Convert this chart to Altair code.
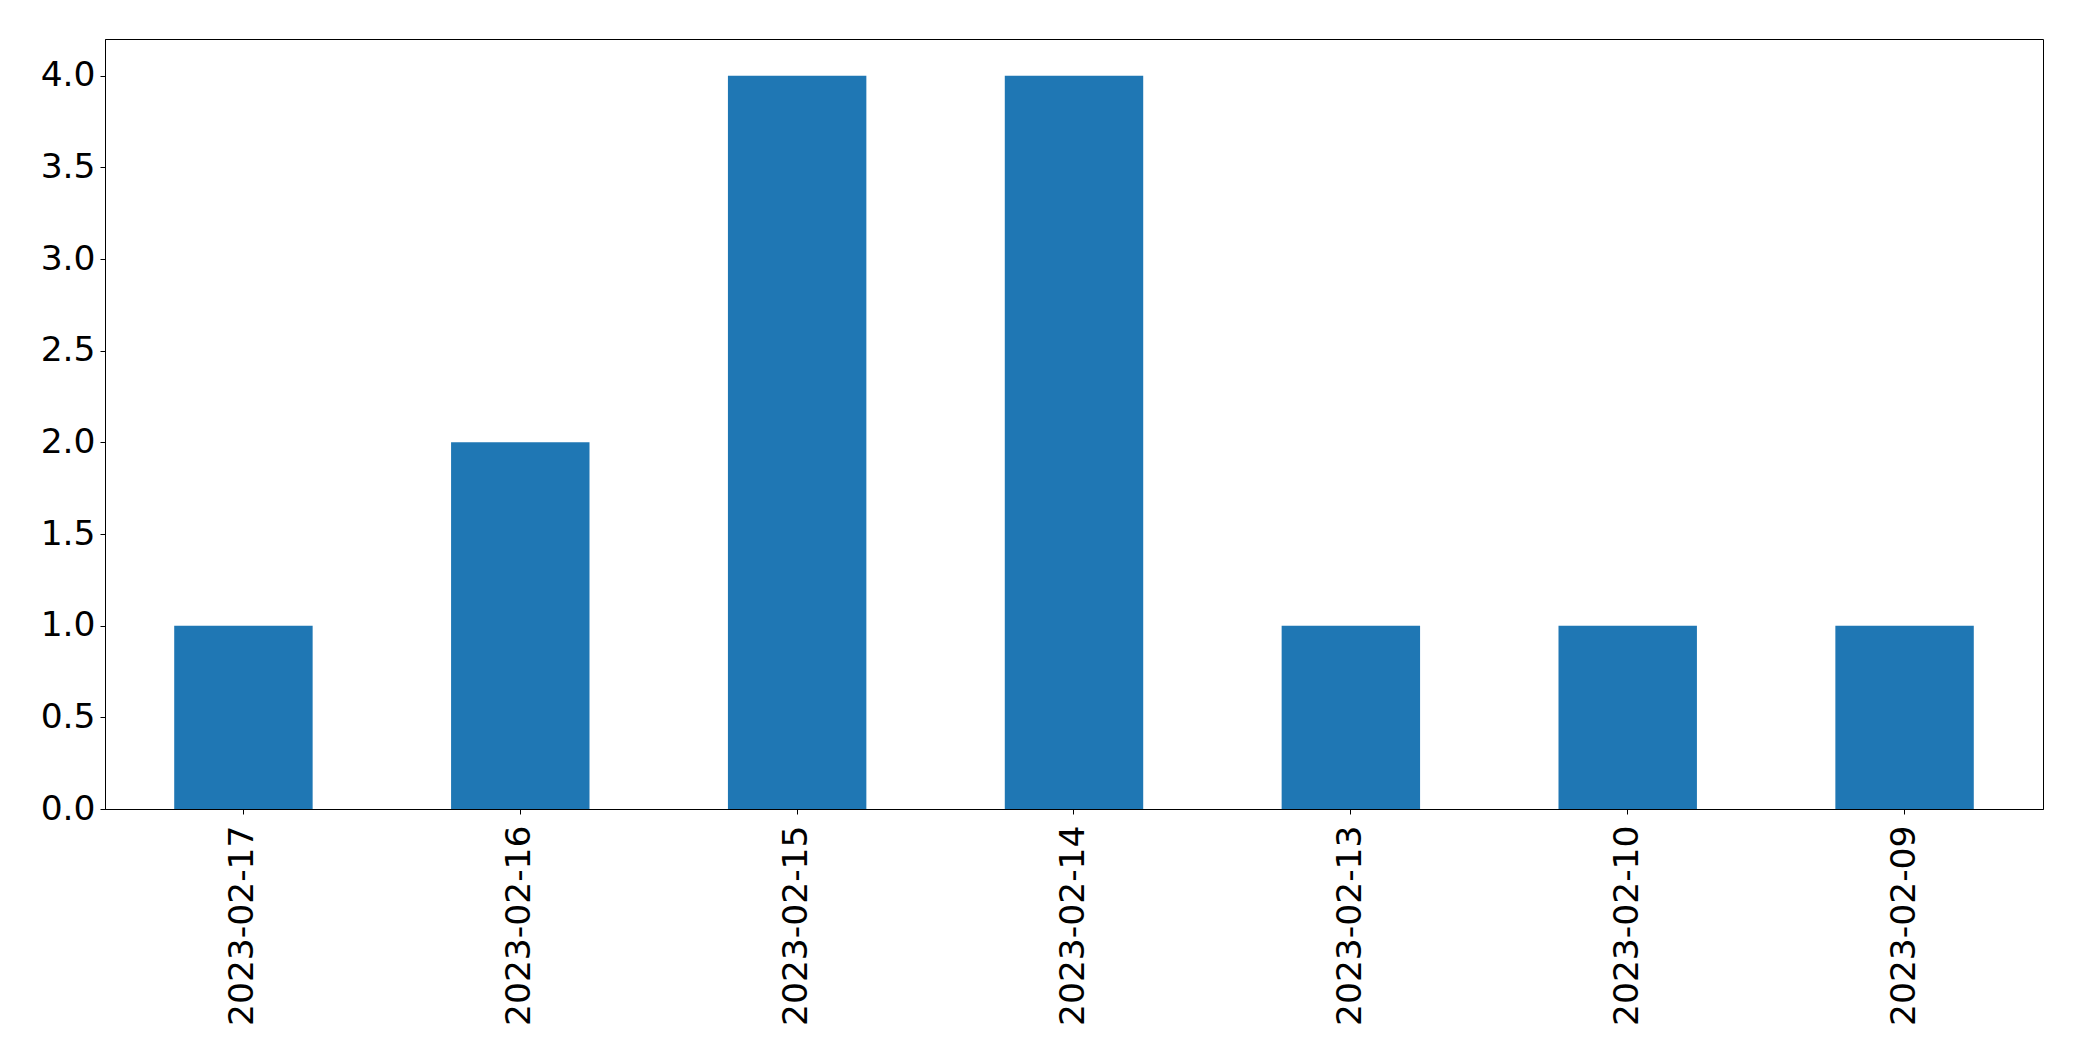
import altair as alt
import pandas as pd

dates = ["2023-02-17", "2023-02-16", "2023-02-15", "2023-02-14", "2023-02-13", "2023-02-10", "2023-02-09"]
counts = [1, 2, 4, 4, 1, 1, 1]
y_ticks = [0.0, 0.5, 1.0, 1.5, 2.0, 2.5, 3.0, 3.5, 4.0]

df = pd.DataFrame({"date": dates, "count": counts})

chart = alt.Chart(df).mark_bar(color="#1f77b4").encode(
    x=alt.X("date:N", sort=dates, title=None,
            scale=alt.Scale(paddingInner=0.5, paddingOuter=0.25),
            axis=alt.Axis(labelAngle=-90, labelAlign="right", labelBaseline="middle",
                          labelFont="DejaVu Sans", labelFontSize=34.5, labelColor="black",
                          labelLimit=0, labelPadding=11, tickSize=5, tickColor="black",
                          tickWidth=1, domainColor="black", domainWidth=1, grid=False)),
    y=alt.Y("count:Q", title=None,
            scale=alt.Scale(domain=[0, 4.2], nice=False, zero=True),
            axis=alt.Axis(values=y_ticks, format=".1f",
                          labelFont="DejaVu Sans", labelFontSize=34.5, labelColor="black",
                          labelLimit=0, labelPadding=5, tickSize=5, tickColor="black",
                          tickWidth=1, domainColor="black", domainWidth=1, grid=False)),
).properties(
    width=1938, height=770,
    background="white",
    autosize=alt.AutoSizeParams(type="none"),
    padding={"left": 97, "top": 31, "right": 20, "bottom": 220},
).configure_view(
    stroke="black", strokeWidth=1, strokeOpacity=1
)

chart.save("out.html", embed_options={"renderer": "svg", "actions": False})
